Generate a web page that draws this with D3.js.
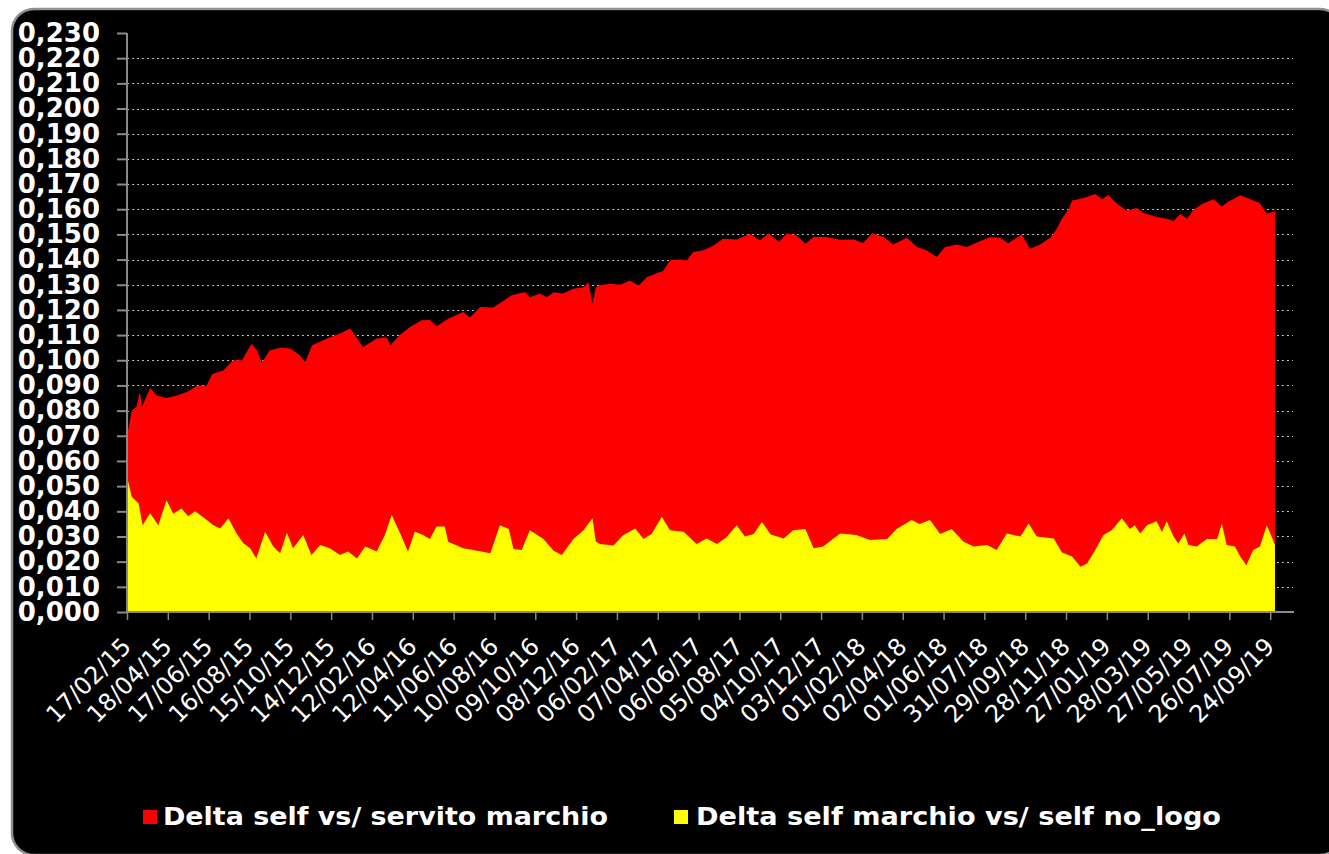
<!DOCTYPE html>
<html>
<head>
<meta charset="utf-8">
<script src="https://cdn.jsdelivr.net/npm/d3@7"></script>
<style>
  body { margin: 0; background: #fff; }
  svg { display: block; }
  text { font-family: 'DejaVu Sans', Verdana, sans-serif; fill: #fff; }
</style>
</head>
<body>
<svg id="chart" width="1329" height="854"></svg>
<script>
;(function () {
  // first day of the series, the rest is counted in days from it
  var startDay = '2015-02-17'

  var redName = 'Delta self vs/ servito marchio'
  var redDays = [0, 7, 14, 19, 22, 34, 44, 58, 73, 88, 102, 117, 125, 142, 156, 169, 183, 191, 198, 210,
    225, 240, 254, 262, 272, 294, 313, 328, 347, 367, 382, 387, 401, 416, 433, 445, 455, 472, 494, 504,
    519, 538, 553, 565, 585, 592, 607, 617, 627, 641, 656, 671, 678, 684, 689, 695, 710, 725, 739, 752,
    764, 779, 788, 798, 813, 823, 832, 847, 862, 876, 896, 916, 930, 943, 958, 970, 984, 997, 1009, 1028,
    1048, 1068, 1082, 1095, 1112, 1126, 1146, 1161, 1175, 1190, 1202, 1220, 1234, 1249, 1268, 1283, 1295, 1315, 1327, 1342,
    1357, 1366, 1374, 1384, 1389, 1406, 1423, 1433, 1442, 1455, 1469, 1484, 1494, 1514, 1528, 1538, 1548, 1558, 1567, 1582,
    1597, 1609, 1617, 1631, 1636, 1651, 1665, 1675, 1687]
  var redValues = [0.070, 0.080, 0.0815, 0.0874, 0.0815, 0.089, 0.086, 0.085, 0.086, 0.0874, 0.0897, 0.090, 0.0944, 0.096, 0.100, 0.100, 0.1066, 0.104, 0.099, 0.104,
    0.105, 0.1047, 0.102, 0.0993, 0.106, 0.1086, 0.1106, 0.1126, 0.1053, 0.1086, 0.109, 0.106, 0.110, 0.1132, 0.1159, 0.116, 0.1135, 0.1165, 0.1192, 0.117,
    0.1212, 0.121, 0.1235, 0.1258, 0.1271, 0.125, 0.1265, 0.125, 0.127, 0.1265, 0.1284, 0.129, 0.131, 0.1225, 0.129, 0.1298, 0.1304, 0.130, 0.1317, 0.1297,
    0.133, 0.1347, 0.1355, 0.1397, 0.140, 0.1397, 0.143, 0.1437, 0.1456, 0.1483, 0.148, 0.1503, 0.1476, 0.1505, 0.147, 0.1505, 0.1496, 0.1463, 0.149, 0.149,
    0.1479, 0.148, 0.1466, 0.1505, 0.149, 0.146, 0.1487, 0.145, 0.1437, 0.141, 0.145, 0.146, 0.145, 0.1468, 0.1489, 0.1487, 0.1465, 0.150, 0.1443, 0.146,
    0.1488, 0.152, 0.1562, 0.1602, 0.1635, 0.1645, 0.166, 0.164, 0.1656, 0.1622, 0.1595, 0.1605, 0.1585, 0.1569, 0.1562, 0.1553, 0.1582, 0.1562, 0.1598, 0.1624,
    0.164, 0.161, 0.1628, 0.1648, 0.1655, 0.164, 0.1624, 0.1582, 0.1593]

  var yellowName = 'Delta self marchio vs/ self no_logo'
  var yellowDays = [0, 7, 17, 23, 34, 46, 58, 68, 80, 90, 100, 112, 127, 137, 149, 161, 171, 181, 190, 203,
    215, 225, 235, 244, 259, 271, 284, 298, 313, 325, 338, 350, 367, 379, 389, 401, 413, 423, 435, 445,
    455, 467, 472, 494, 509, 534, 548, 561, 568, 580, 592, 612, 627, 639, 656, 671, 684, 689, 695, 715,
    729, 747, 759, 771, 786, 798, 818, 837, 852, 867, 881, 896, 908, 921, 933, 946, 965, 979, 997, 1009,
    1023, 1048, 1072, 1092, 1117, 1131, 1153, 1165, 1180, 1195, 1212, 1229, 1244, 1264, 1278, 1293, 1313, 1325, 1337, 1362,
    1374, 1389, 1401, 1411, 1423, 1435, 1447, 1462, 1474, 1481, 1489, 1499, 1513, 1521, 1528, 1538, 1545, 1554, 1560, 1572,
    1587, 1602, 1609, 1616, 1628, 1636, 1645, 1655, 1665, 1675, 1682, 1687]
  var yellowValues = [0.0537, 0.0458, 0.0431, 0.0345, 0.0392, 0.0345, 0.0444, 0.039, 0.0411, 0.038, 0.040, 0.0376, 0.0345, 0.0332, 0.0372, 0.0312, 0.0273, 0.0253, 0.0213, 0.0319,
    0.026, 0.0233, 0.0315, 0.0253, 0.0306, 0.0226, 0.0266, 0.0253, 0.0226, 0.024, 0.0213, 0.026, 0.024, 0.0306, 0.0385, 0.0315, 0.024, 0.032, 0.0306, 0.029,
    0.034, 0.034, 0.0279, 0.0253, 0.0246, 0.0233, 0.0345, 0.033, 0.025, 0.0246, 0.0325, 0.029, 0.0243, 0.0226, 0.029, 0.0325, 0.0372, 0.028, 0.027, 0.0264,
    0.0305, 0.0332, 0.029, 0.031, 0.0378, 0.0325, 0.0319, 0.027, 0.0292, 0.027, 0.0297, 0.0345, 0.030, 0.031, 0.0358, 0.0308, 0.0292, 0.0325, 0.033, 0.0253,
    0.026, 0.0312, 0.0306, 0.0286, 0.029, 0.033, 0.0365, 0.035, 0.0365, 0.031, 0.033, 0.028, 0.026, 0.0266, 0.0246, 0.0312, 0.030, 0.0352, 0.030, 0.0292,
    0.0236, 0.022, 0.018, 0.0193, 0.0246, 0.0306, 0.0325, 0.0372, 0.033, 0.0345, 0.0312, 0.0345, 0.036, 0.0318, 0.036, 0.030, 0.0272, 0.0312, 0.0266, 0.026,
    0.029, 0.029, 0.0352, 0.0266, 0.026, 0.022, 0.0186, 0.0246, 0.026, 0.0345, 0.030, 0.0266]

  var tickLabels = ['17/02/15', '18/04/15', '17/06/15', '16/08/15', '15/10/15', '14/12/15', '12/02/16',
    '12/04/16', '11/06/16', '10/08/16', '09/10/16', '08/12/16', '06/02/17', '07/04/17', '06/06/17',
    '05/08/17', '04/10/17', '03/12/17', '01/02/18', '02/04/18', '01/06/18', '31/07/18', '29/09/18',
    '28/11/18', '27/01/19', '28/03/19', '27/05/19', '26/07/19', '24/09/19']

  var yMax = 0.23
  var axisDays = 1715 // category axis runs a bit past the last point

  /*
      --------------------------------------
      Common configurations
  */
  var svg = d3.select('#chart')
  var plot = {left: 127, right: 1294, top: 33, bottom: 612}
  var grey = '#8a8a8a'

  var start = d3.utcParse('%Y-%m-%d')(startDay)
  var parseTick = d3.utcParse('%d/%m/%y')
  var fmt = d3.format('.3f')

  function toSeries (days, values) {
    return days.map((d, i) => ({date: d3.utcDay.offset(start, d), value: values[i]}))
  }

  var red = toSeries(redDays, redValues)
  var yellow = toSeries(yellowDays, yellowValues)

  var mapx = d3.scaleUtc()
      .domain([start, d3.utcDay.offset(start, axisDays)])
      .range([plot.left, plot.right])

  var mapy = d3.scaleLinear()
      .domain([0, yMax])
      .range([plot.bottom, plot.top])

  var yTicks = d3.range(0, 24).map(i => i / 100)

  // black rounded frame
  svg.append('rect')
      .attr('x', 12)
      .attr('y', 9)
      .attr('width', 1330)
      .attr('height', 846)
      .attr('rx', 22)
      .style('fill', '#000')
      .style('stroke', '#909090')
      .style('stroke-width', 2.5)

  /*
      --------------------------------------
      Grid
  */
  svg.append('g').classed('grid', true)
      .selectAll('line')
      .data(yTicks.filter(t => t > 0 && t < yMax - 0.001))
      .enter()
      .append('line')
      .attr('x1', plot.left)
      .attr('x2', plot.right - 1)
      .attr('y1', d => Math.round(mapy(d)) + 0.5)
      .attr('y2', d => Math.round(mapy(d)) + 0.5)
      .style('stroke', '#b8b8b8')
      .style('stroke-width', 1)
      .style('stroke-dasharray', '2,3')

  /*
      --------------------------------------
      Areas
  */
  var area = d3.area()
      .x(d => mapx(d.date))
      .y0(mapy(0))
      .y1(d => mapy(d.value))

  svg.append('path')
      .datum(red)
      .attr('d', area)
      .style('fill', '#ff0000')

  svg.append('path')
      .datum(yellow)
      .attr('d', area)
      .style('fill', '#ffff00')

  /*
      --------------------------------------
      Axis Y
  */
  var yAxis = d3.axisLeft(mapy)
      .tickValues(yTicks)
      .tickSize(10)
      .tickPadding(17)
      .tickFormat(d => fmt(d).replace('.', ','))

  var gy = svg.append('g')
      .attr('transform', `translate(${plot.left},0)`)
      .call(yAxis)

  gy.select('.domain').remove()
  gy.selectAll('line').style('stroke', grey).style('stroke-width', 2)
  gy.selectAll('text')
      .style('font-size', '26px')
      .style('font-weight', 'bold')
      .style('fill', '#fff')

  svg.append('line')
      .attr('x1', plot.left)
      .attr('x2', plot.left)
      .attr('y1', plot.top)
      .attr('y2', plot.bottom + 1)
      .style('stroke', grey)
      .style('stroke-width', 2)

  /*
      --------------------------------------
      Axis X
  */
  var xAxis = d3.axisBottom(mapx)
      .tickValues(tickLabels.map(parseTick))
      .tickSize(8)
      .tickFormat(d3.utcFormat('%d/%m/%y'))

  var gx = svg.append('g')
      .attr('transform', `translate(0,${plot.bottom})`)
      .call(xAxis)

  gx.select('.domain').remove()
  gx.selectAll('line').style('stroke', grey).style('stroke-width', 1.5)
  gx.selectAll('text')
      .attr('y', 0)
      .attr('dy', 0)
      .attr('text-anchor', 'end')
      .attr('transform', 'translate(5,36) rotate(-45)')
      .style('font-size', '24px')
      .style('fill', '#fff')

  svg.append('line')
      .attr('x1', plot.left - 1)
      .attr('x2', plot.right)
      .attr('y1', plot.bottom)
      .attr('y2', plot.bottom)
      .style('stroke', grey)
      .style('stroke-width', 2)

  /*
      --------------------------------------
      Legend
  */
  var legend = [
    {name: redName, color: '#ff0000', x: 143, width: 445},
    {name: yellowName, color: '#ffff00', x: 674, width: 525}
  ]

  var items = svg.append('g').classed('legend', true)
      .selectAll('g')
      .data(legend)
      .enter()
      .append('g')
      .attr('transform', d => `translate(${d.x},810)`)

  items.append('rect')
      .attr('width', 14)
      .attr('height', 14)
      .style('fill', d => d.color)

  items.append('text')
      .attr('x', (d, i) => i ? 22 : 20)
      .attr('y', 15)
      .attr('textLength', d => d.width)
      .attr('lengthAdjust', 'spacingAndGlyphs')
      .style('font-size', '25px')
      .style('font-weight', 'bold')
      .text(d => d.name)
})()
</script>
</body>
</html>
